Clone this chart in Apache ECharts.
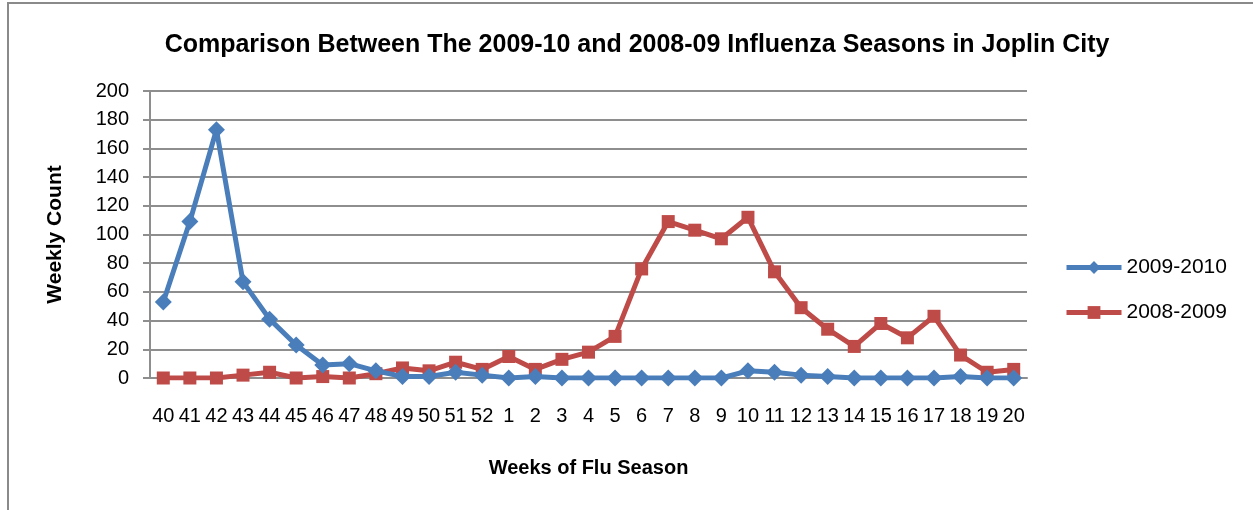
<!DOCTYPE html>
<html>
<head>
<meta charset="utf-8">
<script src="https://cdn.jsdelivr.net/npm/echarts@6/dist/echarts.min.js"></script>
<style>html,body{margin:0;padding:0;background:#fff;}#c{width:1253px;height:510px;}</style>
</head>
<body>
<div id="c"></div>
<script>
const weeks = ['40','41','42','43','44','45','46','47','48','49','50','51','52','1','2','3','4','5','6','7','8','9','10','11','12','13','14','15','16','17','18','19','20'];
const season2009_2010 = [53,109,173,67,41,23,9,10,5,1,1,4,2,0,1,0,0,0,0,0,0,0,5,4,2,1,0,0,0,0,1,0,0];
const season2008_2009 = [0,0,0,2,4,0,1,0,3,7,5,11,6,15,6,13,18,29,76,109,103,97,112,74,49,34,22,38,28,43,16,4,6];
const yTicks = [0,20,40,60,80,100,120,140,160,180,200];

const FONT = "'Liberation Sans', Arial, sans-serif";
const GRID = '#8e8e8e';
const chart = echarts.init(document.getElementById('c'), null, {renderer:'canvas'});
chart.setOption({
  animation:false,
  backgroundColor:'#fff',
  textStyle:{fontFamily:FONT},
  title:{
    text:'Comparison Between The 2009-10 and 2008-09 Influenza Seasons in Joplin City',
    left:632, textAlign:'center', top:28,
    textStyle:{fontFamily:FONT, fontWeight:'bold', fontSize:25, color:'#000'}
  },
  legend:{
    orient:'vertical', left:1059, top:252, itemGap:24, itemWidth:55, itemHeight:16,
    lineStyle:{width:5},
    textStyle:{fontFamily:FONT, fontSize:21, color:'#000'},
    data:['2009-2010','2008-2009']
  },
  grid:{left:150, right:226, top:91, bottom:132, containLabel:false},
  xAxis:{
    type:'category', data:weeks, boundaryGap:true,
    name:'Weeks of Flu Season', nameLocation:'middle', nameGap:80,
    nameTextStyle:{fontFamily:FONT, fontWeight:'bold', fontSize:20, color:'#000'},
    axisLine:{show:true, lineStyle:{color:GRID, width:2}},
    axisTick:{show:false},
    axisLabel:{interval:0, fontSize:20, color:'#000', margin:28, fontFamily:FONT}
  },
  yAxis:{
    type:'value', min:yTicks[0], max:yTicks[yTicks.length-1], interval:20,
    name:'Weekly Count', nameLocation:'middle', nameGap:84,
    nameTextStyle:{fontFamily:FONT, fontWeight:'bold', fontSize:21, color:'#000'},
    axisLine:{show:true, lineStyle:{color:GRID, width:2}},
    axisTick:{show:true, length:7, lineStyle:{color:GRID, width:2}},
    axisLabel:{fontSize:20, color:'#000', margin:21, fontFamily:FONT},
    splitLine:{show:true, lineStyle:{color:GRID, width:2}}
  },
  series:[
    {name:'2009-2010', type:'line', data:season2009_2010, symbol:'diamond', symbolSize:17,
     itemStyle:{color:'#4a7ebb'}, lineStyle:{color:'#4a7ebb', width:5}, z:3},
    {name:'2008-2009', type:'line', data:season2008_2009, symbol:'rect', symbolSize:13,
     itemStyle:{color:'#be4b48'}, lineStyle:{color:'#be4b48', width:5}, z:2}
  ],
  graphic:[
    {type:'line', shape:{x1:7, y1:3, x2:1253, y2:3}, style:{stroke:'#8a8a8a', lineWidth:2}},
    {type:'line', shape:{x1:8, y1:3, x2:8, y2:510}, style:{stroke:'#8a8a8a', lineWidth:2}}
  ]
});
</script>
</body>
</html>
